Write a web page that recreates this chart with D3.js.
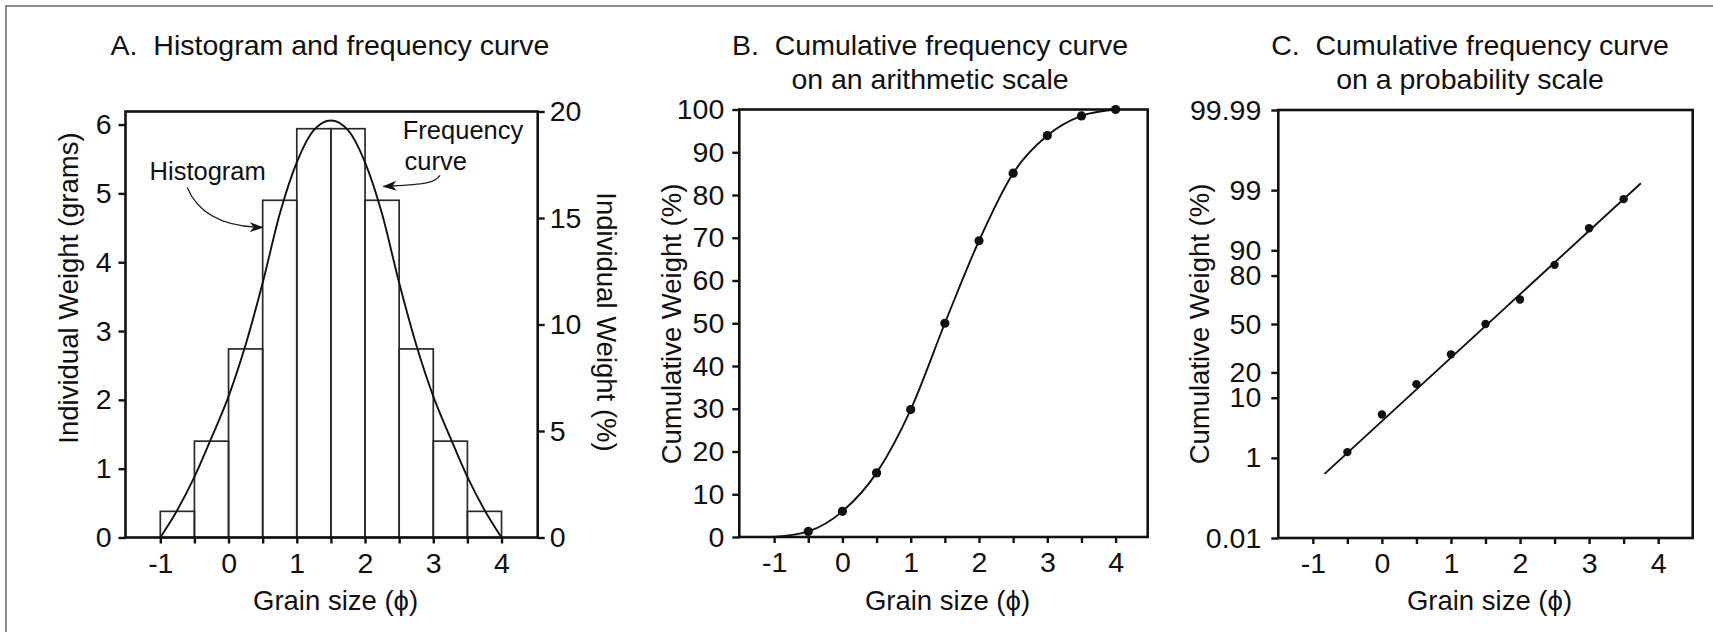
<html>
<head>
  <meta charset="utf-8">
  <title>Grain size curves</title>
  <script src="https://cdnjs.cloudflare.com/ajax/libs/d3/7.8.5/d3.min.js"></script>
  <style>
    body { margin: 0; background: #fff; }
    text { font-family: "Liberation Sans", Arial, "DejaVu Sans", sans-serif; fill: #111; white-space: pre; }
  </style>
</head>
<body>
  <script>
    // --- data ---
    const binEdges = [-1, -0.5, 0, 0.5, 1, 1.5, 2, 2.5, 3, 3.5, 4];
    const binGrams = [0.38, 1.4, 2.74, 4.9, 5.94, 5.94, 4.9, 2.74, 1.4, 0.38];

    const freqX = [-1, -0.75, -0.5, -0.25, 0, 0.25, 0.5, 0.75, 1, 1.25, 1.5,
                   1.75, 2, 2.25, 2.5, 2.75, 3, 3.25, 3.5, 3.75, 4];
    const freqY = [0, 0.4, 0.88, 1.45, 2.05, 2.8, 3.7, 4.7, 5.45, 5.92, 6.06,
                   5.92, 5.45, 4.7, 3.7, 2.8, 2.05, 1.45, 0.88, 0.4, 0];

    const cumX = [-0.5, 0, 0.5, 1, 1.5, 2, 2.5, 3, 3.5, 4];
    const cumPct = [1.3, 6, 15, 29.8, 50, 69.3, 85.1, 93.9, 98.5, 100];

    const probX = [-0.5, 0, 0.5, 1, 1.5, 2, 2.5, 3, 3.5];
    const probPct = [1.3, 5.8, 14.8, 29.9, 50, 66.5, 84.8, 95.2, 98.5];
    const fitX = [-0.83, 3.75];
    const fitPct = [0.46, 99.28];

    const xTicks = [-1, -0.5, 0, 0.5, 1, 1.5, 2, 2.5, 3, 3.5, 4];
    const gramTicks = [0, 1, 2, 3, 4, 5, 6];
    const pctTicks = [0, 5, 10, 15, 20];
    const cumTicks = [0, 10, 20, 30, 40, 50, 60, 70, 80, 90, 100];
    const probTicks = [0.01, 1, 10, 20, 50, 80, 90, 99, 99.99];

    const width = 1713, height = 632;
    const tickFont = 28.5, labelFont = 27.5, titleFont = 28.5;

    const svg = d3.select("body").append("svg")
      .attr("width", width).attr("height", height);

    svg.append("rect").attr("width", width).attr("height", height).attr("fill", "#fff");
    // scan border (top and left only)
    svg.append("path").attr("d", "M6,632V6H1713")
      .attr("fill", "none").attr("stroke", "#8a8a8a").attr("stroke-width", 2);

    // inverse normal CDF (Acklam) for the probability axis
    function probit(p) {
      const a = [-3.969683028665376e+01, 2.209460984245205e+02, -2.759285104469687e+02, 1.383577518672690e+02, -3.066479806614716e+01, 2.506628277459239e+00];
      const b = [-5.447609879822406e+01, 1.615858368580409e+02, -1.556989798598866e+02, 6.680131188771972e+01, -1.328068155288572e+01];
      const c = [-7.784894002430293e-03, -3.223964580411365e-01, -2.400758277161838e+00, -2.549732539343734e+00, 4.374664141464968e+00, 2.938163982698783e+00];
      const d = [7.784695709041462e-03, 3.224671290700398e-01, 2.445134137142996e+00, 3.754408661907416e+00];
      const pl = 0.02425;
      let q, r;
      if (p < pl) {
        q = Math.sqrt(-2 * Math.log(p));
        return (((((c[0]*q+c[1])*q+c[2])*q+c[3])*q+c[4])*q+c[5]) / ((((d[0]*q+d[1])*q+d[2])*q+d[3])*q+1);
      }
      if (p <= 1 - pl) {
        q = p - 0.5; r = q * q;
        return (((((a[0]*r+a[1])*r+a[2])*r+a[3])*r+a[4])*r+a[5])*q / (((((b[0]*r+b[1])*r+b[2])*r+b[3])*r+b[4])*r+1);
      }
      q = Math.sqrt(-2 * Math.log(1 - p));
      return -(((((c[0]*q+c[1])*q+c[2])*q+c[3])*q+c[4])*q+c[5]) / ((((d[0]*q+d[1])*q+d[2])*q+d[3])*q+1);
    }

    // arrow head
    svg.append("defs").append("marker")
      .attr("id", "arrow").attr("viewBox", "0 0 14 10")
      .attr("refX", 13).attr("refY", 5)
      .attr("markerWidth", 14).attr("markerHeight", 10)
      .attr("markerUnits", "userSpaceOnUse").attr("orient", "auto")
      .append("path").attr("d", "M0,0L14,5L0,10L4,5Z").attr("fill", "#111");

    function styleAxis(g) {
      g.select(".domain").remove();
      g.selectAll(".tick line").attr("stroke", "#111").attr("stroke-width", 2.4);
      g.selectAll(".tick text").style("font-size", tickFont + "px").attr("fill", "#111");
    }

    function frame(x0, y0, x1, y1) {
      svg.append("rect").attr("x", x0).attr("y", y0)
        .attr("width", x1 - x0).attr("height", y1 - y0)
        .attr("fill", "none").attr("stroke", "#111").attr("stroke-width", 2.6);
    }

    function xAxis(x, yBase) {
      svg.append("g").attr("transform", `translate(0,${yBase})`)
        .call(d3.axisBottom(x).tickValues(xTicks).tickSize(6).tickPadding(9)
          .tickFormat(d => Number.isInteger(d) ? d : ""))
        .call(styleAxis);
      svg.append("text")
        .attr("x", (x.range()[0] + x.range()[1]) / 2 + 4).attr("y", 610)
        .attr("text-anchor", "middle").style("font-size", labelFont + "px")
        .text("Grain size (\u03D5)");
    }

    function yLabel(text, cx, cy, angle) {
      svg.append("text")
        .attr("transform", `translate(${cx},${cy}) rotate(${angle})`)
        .attr("text-anchor", "middle").style("font-size", labelFont + "px")
        .text(text);
    }

    function title(lines, cx) {
      lines.forEach((t, i) => {
        svg.append("text").attr("x", cx).attr("y", 55 + i * 33.5)
          .attr("text-anchor", "middle").style("font-size", titleFont + "px")
          .text(t);
      });
    }

    // ---------- A. Histogram and frequency curve ----------
    const xA = d3.scaleLinear().domain([-1.51, 4.53]).range([125.5, 537.7]);
    const yA = d3.scaleLinear().domain([0, 6.19]).range([537.5, 111.5]);
    const yA2 = d3.scaleLinear().domain([0, 20]).range([537.5, 111.5]);

    svg.append("g").selectAll("rect")
      .data(binGrams).join("rect")
      .attr("x", (d, i) => xA(binEdges[i]))
      .attr("width", (d, i) => xA(binEdges[i + 1]) - xA(binEdges[i]))
      .attr("y", d => yA(d))
      .attr("height", d => yA(0) - yA(d))
      .attr("fill", "none").attr("stroke", "#2a2a2a").attr("stroke-width", 1.7);

    svg.append("path")
      .attr("d", d3.line().x(d => xA(d[0])).y(d => yA(d[1])).curve(d3.curveMonotoneX)(d3.zip(freqX, freqY)))
      .attr("fill", "none").attr("stroke", "#111").attr("stroke-width", 1.9);

    frame(xA.range()[0], yA.range()[1], xA.range()[1], yA.range()[0]);

    svg.append("g").attr("transform", `translate(${xA.range()[0]},0)`)
      .call(d3.axisLeft(yA).tickValues(gramTicks).tickSize(7).tickPadding(7).tickFormat(d3.format("d")))
      .call(styleAxis);
    svg.append("g").attr("transform", `translate(${xA.range()[1]},0)`)
      .call(d3.axisRight(yA2).tickValues(pctTicks).tickSize(7).tickPadding(5).tickFormat(d3.format("d")))
      .call(styleAxis);
    xAxis(xA, yA.range()[0]);

    yLabel("Individual Weight (grams)", 78, 288, -90);
    yLabel("Individual Weight (%)", 597, 322, 90);
    title(["A.  Histogram and frequency curve"], 330);

    // annotations
    svg.append("text").attr("x", xA(-1.157)).attr("y", yA(5.196))
      .style("font-size", "25.5px").text("Histogram");
    svg.append("path")
      .attr("d", `M${xA(-0.607)},${yA(5.09)} Q${xA(-0.373)},${yA(4.52)} ${xA(0.5)},${yA(4.506)}`)
      .attr("fill", "none").attr("stroke", "#222").attr("stroke-width", 1.3)
      .attr("marker-end", "url(#arrow)");

    const fq = svg.append("text").style("font-size", "25.5px");
    fq.append("tspan").attr("x", xA(2.553)).attr("y", yA(5.794)).text("Frequency");
    fq.append("tspan").attr("x", xA(2.58)).attr("y", yA(5.344)).text("curve");
    svg.append("path")
      .attr("d", `M${xA(3.099)},${yA(5.261)} C${xA(3.011)},${yA(5.131)} ${xA(2.806)},${yA(5.131)} ${xA(2.27)},${yA(5.1)}`)
      .attr("fill", "none").attr("stroke", "#222").attr("stroke-width", 1.3)
      .attr("marker-end", "url(#arrow)");

    // ---------- B. Cumulative curve, arithmetic scale ----------
    const xB = d3.scaleLinear().domain([-1.51, 4.47]).range([739.3, 1147.7]);
    const yB = d3.scaleLinear().domain([0, 100]).range([537, 109.5]);

    frame(xB.range()[0], yB.range()[1], xB.range()[1], yB.range()[0]);

    svg.append("path")
      .attr("d", d3.line().x(d => xB(d[0])).y(d => yB(d[1])).curve(d3.curveMonotoneX)
        ([[-1, 0]].concat(d3.zip(cumX, cumPct))))
      .attr("fill", "none").attr("stroke", "#111").attr("stroke-width", 1.9);
    svg.append("g").selectAll("circle")
      .data(cumPct).join("circle")
      .attr("cx", (d, i) => xB(cumX[i])).attr("cy", d => yB(d))
      .attr("r", 4.6).attr("fill", "#111");

    svg.append("g").attr("transform", `translate(${xB.range()[0]},0)`)
      .call(d3.axisLeft(yB).tickValues(cumTicks).tickSize(7).tickPadding(8))
      .call(styleAxis);
    xAxis(xB, yB.range()[0]);
    yLabel("Cumulative Weight (%)", 681, 324, -90);
    title(["B.  Cumulative frequency curve", "on an arithmetic scale"], 930);

    // ---------- C. Cumulative curve, probability scale ----------
    const xC = d3.scaleLinear().domain([-1.5, 4.5]).range([1278.3, 1692.7]);
    const zC = d3.scaleLinear().domain([probit(0.0001), probit(0.9999)]).range([538, 110]);
    const yC = p => zC(probit(p / 100));

    frame(xC.range()[0], zC.range()[1], xC.range()[1], zC.range()[0]);

    svg.append("path")
      .attr("d", d3.line().x(d => xC(d[0])).y(d => yC(d[1]))(d3.zip(fitX, fitPct)))
      .attr("fill", "none").attr("stroke", "#111").attr("stroke-width", 1.9);
    svg.append("g").selectAll("circle")
      .data(probPct).join("circle")
      .attr("cx", (d, i) => xC(probX[i])).attr("cy", d => yC(d))
      .attr("r", 4.2).attr("fill", "#111");

    svg.append("g").attr("transform", `translate(${xC.range()[0]},0)`)
      .call(d3.axisLeft(zC).tickValues(probTicks.map(p => probit(p / 100)))
        .tickSize(7).tickPadding(10).tickFormat((d, i) => probTicks[i]))
      .call(styleAxis);
    xAxis(xC, zC.range()[0]);
    yLabel("Cumulative Weight (%)", 1209, 324, -90);
    title(["C.  Cumulative frequency curve", "on a probability scale"], 1470);
  </script>
</body>
</html>
